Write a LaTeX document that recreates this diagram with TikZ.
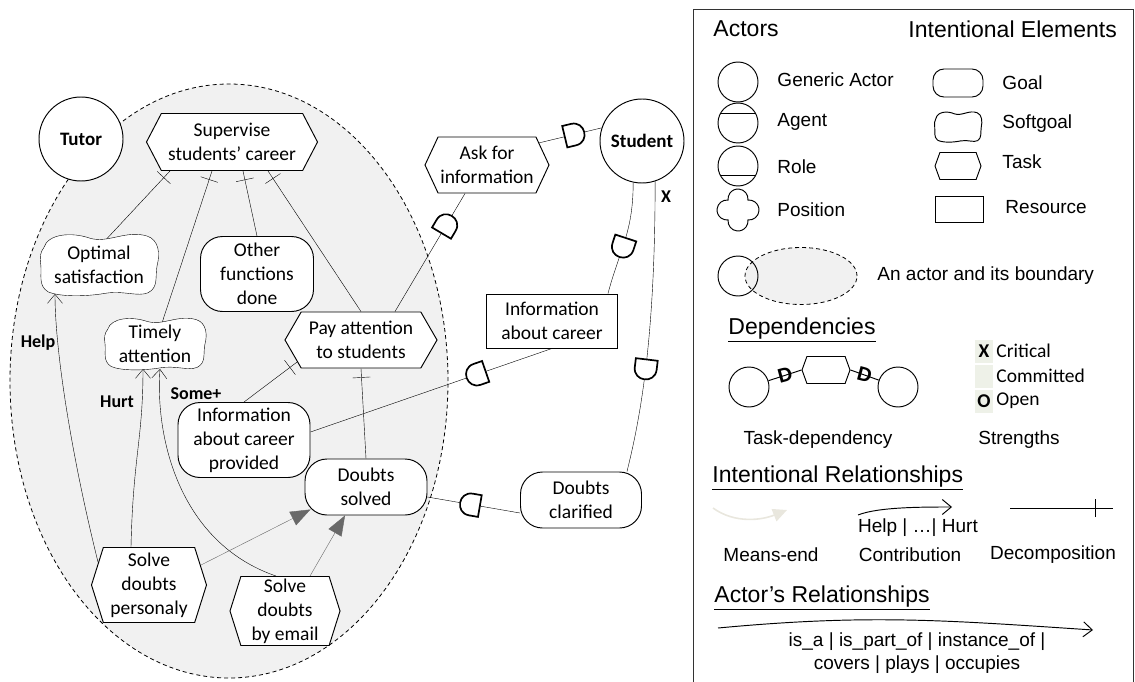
\documentclass[tikz,border=0pt]{standalone}
\usepackage{fontspec}
\setmainfont{Carlito}
\newfontfamily\arialf{Liberation Sans}
\usetikzlibrary{shapes.geometric,shapes.symbols,arrows.meta,decorations.markings,backgrounds}

\definecolor{bndgray}{RGB}{241,241,241}
\definecolor{megray}{RGB}{105,105,105}
\definecolor{mebeige}{RGB}{233,231,222}
\definecolor{strcell}{RGB}{238,241,232}

\begin{document}
\begin{tikzpicture}[x=1pt, y=-1pt, line width=0.95pt,
  every node/.style={font=\fontsize{19.5}{24}\selectfont, align=center, inner sep=0pt},
  wh/.style 2 args={minimum width=#1, minimum height=#2},
  actor/.style={circle, draw, fill=white, minimum size=84pt, font=\fontsize{19}{23}\selectfont\bfseries},
  task/.style={signal, signal to=east and west, signal pointer angle=#1, draw, fill=white},
  task/.default=125,
  goal/.style={rectangle, rounded corners=22pt, draw, fill=white},
  resource/.style={rectangle, draw, fill=white},
  softgoal/.style 2 args={rectangle, wh={#1}{#2}},
  sgshape/.pic={\draw[fill=white]
      (-0.92,-0.55) .. controls (-0.85,-1.0) and (-0.45,-1.05) .. (-0.15,-0.85)
      .. controls (0.15,-0.68) and (0.45,-1.12) .. (0.8,-0.92)
      .. controls (1.0,-0.8) and (1.02,-0.35) .. (0.97,0)
      .. controls (0.93,0.35) and (1.0,0.7) .. (0.82,0.88)
      .. controls (0.65,1.02) and (0.4,0.8) .. (0.1,0.9)
      .. controls (-0.2,1.0) and (-0.65,1.02) .. (-0.85,0.85)
      .. controls (-1.02,0.65) and (-0.95,0.3) .. (-0.97,0)
      .. controls (-0.99,-0.25) and (-0.98,-0.4) .. (-0.92,-0.55) -- cycle;},
  lbl/.style={font=\fontsize{18}{22}\selectfont\bfseries},
  decomp/.style={postaction={decorate, decoration={markings,
    mark=at position #1 with {\draw (0pt,-9pt) -- (0pt,9pt);}}}},
  decomp/.default=-9pt,
  dmark/.pic={\draw[line width=1.7pt, fill=white] (-9pt,-11pt) -- (0pt,-11pt)
      .. controls (14.7pt,-11pt) and (14.7pt,11pt) .. (0pt,11pt) -- (-9pt,11pt) -- cycle;},
  depat/.style={pos=#1, sloped, allow upside down},
  contrib/.style={-{Straight Barb[length=9pt,width=15pt]}},
  meansend/.style={megray, -{Triangle[length=20pt,width=15pt]}},
  lg/.style={font=\arialf\fontsize{19}{23}\selectfont},
  lghead/.style={font=\arialf\fontsize{23}{27}\selectfont},
  lgactor/.style={circle, draw, minimum size=40pt},
  dletter/.style={font=\arialf\fontsize{20}{20}\selectfont\bfseries},
  cell/.style={fill=strcell, wh={18}{23}}
]
\useasboundingbox (0,0) rectangle (1135,682);

\begin{scope}[on background layer]
\node[ellipse, draw, line width=0.8pt, dash pattern=on 4pt off 3pt, fill=bndgray, wh={438}{594}] (tutorbnd) at (229,381) {};
\end{scope}

\node[actor] (tutor) at (81,139) {Tutor};
\node[actor] (student) at (642,141) {Student};

\node[task, wh={171}{57}] (sup) at (232,142) {Supervise\\students’ career};
\node[task=130, wh={124}{56}] (ask) at (487,165) {Ask for\\information};
\node[softgoal={122}{65}] (opt) at (99,265) {Optimal\\satisfaction};
\node[goal, wh={113}{75}] (other) at (257,274) {Other\\functions\\done};
\node[softgoal={105}{55}] (timely) at (155,344) {Timely\\attention};
\node[task=120, wh={152}{56}] (pay) at (361,340) {Pay attention\\to students};
\node[resource, wh={131}{54}] (infocar) at (552,321) {Information\\about career};
\node[goal, wh={132}{75}] (infoprov) at (244,440) {Information\\about career\\provided};
\node[goal, wh={122}{56}] (solved) at (366,487) {Doubts\\solved};
\node[goal, wh={121}{56}] (clarif) at (581,500) {Doubts\\clarified};
\node[task=145, wh={115}{75}] (sdp) at (149,585) {Solve\\doubts\\personaly};
\node[task=145, wh={110}{69}] (sde) at (285,611) {Solve\\doubts\\by email};

\node[lbl] (help) at (38,343) {Help};
\node[lbl] (hurt) at (117,402) {Hurt};
\node[lbl] (some) at (196,394) {Some+};
\node[lbl] (crit) at (666,197) {X};

\begin{scope}[on background layer]
\draw[decomp] ([xshift=2pt,yshift=20pt]opt.center) -- ([xshift=-62pt]sup.south);
\draw[decomp] ([xshift=5pt,yshift=15pt]timely.center) -- ([xshift=-20pt]sup.south);
\draw[decomp] (other.north) -- ([xshift=11pt]sup.south);
\draw[decomp] (pay.north) -- ([xshift=36pt]sup.south);
\draw[decomp] (infoprov.north) -- (pay.199);
\draw[decomp] (solved.north) -- (pay.south);

\draw[contrib] (sdp.156) .. controls +(-25,-100) and +(0,60) .. ([xshift=-44pt,yshift=-29pt]opt.center);
\draw[contrib] ([xshift=-18pt]sdp.north) .. controls +(2,-90) and +(0,70) .. ([xshift=-12pt,yshift=-25pt]timely.center);
\draw[contrib] ([xshift=-9pt]sde.north) .. controls +(-96,-33) and +(-5,70) .. ([xshift=5pt,yshift=-25pt]timely.center);

\draw[meansend] (sdp.21) -- ([xshift=6pt,yshift=6pt]solved.south west);
\draw[meansend] ([xshift=25pt]sde.north) -- ([xshift=-21pt]solved.south);

\draw ([xshift=34pt]pay.north) -- ([xshift=-22pt]ask.south) pic[depat=0.73]{dmark};
\draw (ask.23) -- (student.162) pic[depat=0.55]{dmark};
\draw (student.258) .. controls +(0,50) and +(12,-45) .. ([xshift=-10pt]infocar.north east) pic[depat=0.57]{dmark};
\draw (infocar.south) -- ([yshift=8pt]infoprov.east) pic[depat=0.31]{dmark};
\draw (student.-72) .. controls +(0,150) and +(15,-60) .. ([xshift=-15pt]clarif.north east) pic[depat=0.53]{dmark};
\draw ([yshift=-13pt]clarif.west) -- ([yshift=-10pt]solved.east) pic[depat=0.53]{dmark};

\pic[xscale=60, yscale=31.5] at (opt) {sgshape};
\pic[xscale=51.5, yscale=26.5] at (timely) {sgshape};
\end{scope}

\draw[black!80] (693,700) -- (693,9) -- (1133,9) -- (1133,700);
\node[lghead, anchor=west] (lactors) at (713,29) {Actors};
\node[lghead, anchor=west] (lelems) at (908,29) {Intentional Elements};

\node[lgactor] (lgeneric) at (738,82) {};
\node[lg, anchor=west] (lgenerictxt) at (777,80) {Generic Actor};
\node[lgactor] (lagent) at (738,123) {};
\draw (lagent.153) -- (lagent.27);
\node[lg, anchor=west] (lagenttxt) at (777,122) {Agent};
\node[lgactor] (lrole) at (738,166) {};
\draw (lrole.-153) -- (lrole.-27);
\node[lg, anchor=west] (lroletxt) at (777,167) {Role};
\coordinate (lpos) at (738,210);
\draw ([shift={(9.955pt,-9.945pt)}]lpos) arc[start angle=-96, end angle=96, radius=10pt]
  arc[start angle=-6, end angle=186, radius=10pt] arc[start angle=84, end angle=276, radius=10pt]
  arc[start angle=174, end angle=366, radius=10pt] -- cycle;
\node[lg, anchor=west] (lpostxt) at (777,210) {Position};

\node[goal, rounded corners=11pt, wh={50}{28}] (lgoal) at (958,83) {};
\node[lg, anchor=west] (lgoaltxt) at (1002,83) {Goal};
\node[softgoal={50}{32}] (lsoft) at (958,127) {};
\pic[xscale=24, yscale=15.5] at (lsoft) {sgshape};
\node[lg, anchor=west] (lsofttxt) at (1002,124) {Softgoal};
\node[task=140, wh={46}{27}] (ltask) at (958,166) {};
\node[lg, anchor=west] (ltasktxt) at (1002,162) {Task};
\node[resource, wh={48}{26}] (lres) at (959,209) {};
\node[lg, anchor=west] (lrestxt) at (1005,207) {Resource};

\node[ellipse, draw, line width=0.8pt, dash pattern=on 4pt off 3pt, fill=bndgray, wh={112}{57}] (lbnd) at (801,276) {};
\node[lgactor] (lbndactor) at (738,276) {};
\node[lg, anchor=west] (lbndtxt) at (877,276) {An actor and its boundary};

\node[lghead, anchor=west] (ldeps) at (728,330) {\underline{Dependencies}};
\node[lgactor] (ldl) at (749,387) {};
\node[lgactor] (ldr) at (898,387) {};
\node[task=140, wh={48}{27}] (ldtask) at (826,370) {};
\draw (ldl) -- node[dletter, rotate=15] (ldd1) {D} (ldtask.west);
\draw (ldtask.east) -- node[dletter, rotate=-15] (ldd2) {D} (ldr);
\node[lg] (ltdtxt) at (818,440) {Task-dependency};

\node[cell] (lcx) at (984,351) {\bfseries X};
\node[cell] (lcc) at (984,376) {};
\node[cell] (lco) at (984,401) {\bfseries O};
\node[anchor=west] (lcrit) at (996,351) {Critical};
\node[anchor=west] (lcomm) at (996,376) {Committed};
\node[anchor=west] (lopen) at (996,401) {Open};
\node[lg] (lstrtxt) at (1019,440) {Strengths};

\node[lghead, anchor=west] (lirel) at (712,478) {\underline{Intentional Relationships}};
\coordinate (lme1) at (713,508);
\coordinate (lme2) at (787,510);
\draw[mebeige, line width=1.6pt, -{Triangle[length=14pt,width=13pt]}] (lme1) .. controls +(22,16) and +(-25,10) .. (lme2);
\node[lg] (lmetxt) at (771,555) {Means-end};
\coordinate (lco1) at (858,515);
\coordinate (lco2) at (952,507);
\draw[contrib] (lco1) .. controls +(20,-8) and +(-30,0) .. (lco2);
\node[lg] (lcotxt1) at (918,528) {Help | …| Hurt};
\node[lg] (lcotxt2) at (910,555) {Contribution};
\coordinate (lde1) at (1010,508);
\coordinate (lde2) at (1113,508);
\draw[decomp=-18pt] (lde1) -- (lde2);
\node[lg] (ldetxt) at (1053,555) {Decomposition};

\node[lghead, anchor=west] (larel) at (714,598) {\underline{Actor’s Relationships}};
\coordinate (lar1) at (718,628);
\coordinate (lar2) at (1093,630);
\draw[contrib] (lar1) .. controls +(150,-14) and +(-150,-10) .. (lar2);
\node[lg] (lartxt) at (917,653) {is\_a | is\_part\_of | instance\_of |\\covers | plays | occupies};
\end{tikzpicture}
\end{document}
